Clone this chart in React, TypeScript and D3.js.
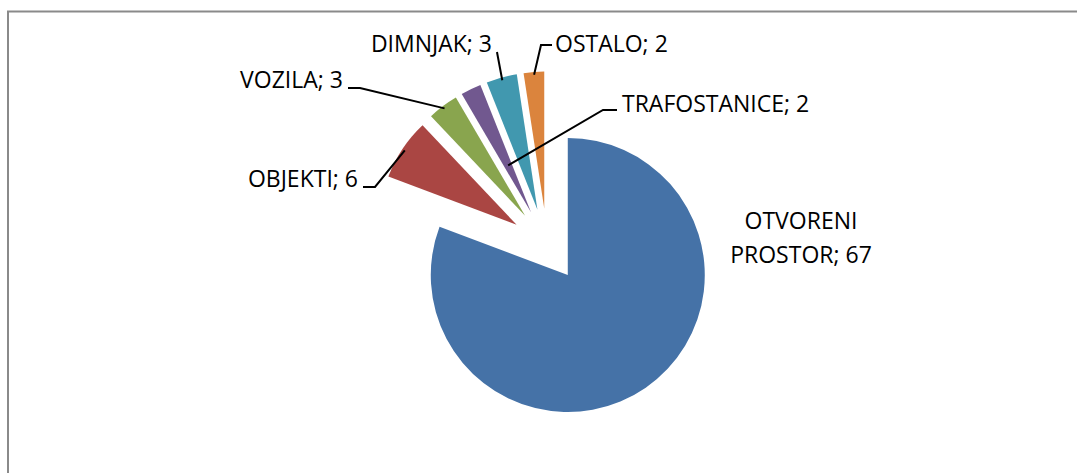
import React from 'react';
import * as d3 from 'd3';

// data
const categories = ['OTVORENI PROSTOR', 'OBJEKTI', 'VOZILA', 'TRAFOSTANICE', 'DIMNJAK', 'OSTALO'];
const values = [67, 6, 3, 2, 3, 2];
const colors = ['#4572A7', '#AA4643', '#89A54E', '#71588F', '#4198AF', '#DB843D'];

// layout
const W = 1077;
const H = 473;
const cx = 547;
const cy = 245;
const radius = 137;
const explode = 36.5;

// label placement: text anchor + elbow points of the leader (toward the slice)
type LabelPos = {
  x: number;
  y: number;
  anchor: 'start' | 'middle' | 'end';
  multiline?: boolean;
  elbow: [number, number][] | null;
  reach: number; // how far into the slice the leader ends (fraction of radius)
};
const labelPos: LabelPos[] = [
  { x: 801, y: 229, anchor: 'middle', multiline: true, elbow: null, reach: 0 },
  { x: 358, y: 187, anchor: 'end', elbow: [[363, 187], [375, 187]], reach: 0.98 },
  { x: 343, y: 88, anchor: 'end', elbow: [[348, 88], [360, 88]], reach: 0.98 },
  { x: 622, y: 112, anchor: 'start', elbow: [[617, 110], [603, 110]], reach: 0.38 },
  { x: 492, y: 52, anchor: 'end', elbow: [[497, 52]], reach: 0.98 },
  { x: 555, y: 52, anchor: 'start', elbow: [[552, 45], [541, 45]], reach: 0.98 },
];

export default function App() {
  const pie = d3.pie<number>().sort(null).startAngle(0).endAngle(2 * Math.PI);
  const arcs = pie(values);
  const arc = d3.arc<d3.PieArcDatum<number>>().innerRadius(0).outerRadius(radius);
  const line = d3.line();

  return (
    <svg width={W} height={H} style={{ position: 'absolute', left: 0, top: 0, display: 'block' }}>
      <rect x={0} y={0} width={W} height={H} fill="#fff" />
      {/* chart area border, continues past the right / bottom edges */}
      <rect x={8} y={11.5} width={W + 20} height={H + 20} fill="none" stroke="#8a8a8a" strokeWidth={2} />
      {arcs.map((a, i) => {
        const mid = (a.startAngle + a.endAngle) / 2;
        const ox = cx + explode * Math.sin(mid);
        const oy = cy - explode * Math.cos(mid);
        return (
          <path key={categories[i]} d={arc(a) || ''} transform={`translate(${ox},${oy})`} fill={colors[i]} />
        );
      })}
      {arcs.map((a, i) => {
        const lp = labelPos[i];
        const mid = (a.startAngle + a.endAngle) / 2;
        const ox = cx + explode * Math.sin(mid);
        const oy = cy - explode * Math.cos(mid);
        const tip: [number, number] = [
          ox + radius * lp.reach * Math.sin(mid),
          oy - radius * lp.reach * Math.cos(mid),
        ];
        const label = `${categories[i]}; ${values[i]}`;
        return (
          <g key={'l' + i}>
            {lp.elbow && (
              <path d={line([...lp.elbow, tip]) || ''} fill="none" stroke="#000" strokeWidth={2} />
            )}
            <text
              x={lp.x}
              y={lp.y}
              textAnchor={lp.anchor}
              fontFamily="'Open Sans', sans-serif"
              fontSize={23}
              fill="#000"
            >
              {lp.multiline ? (
                <>
                  <tspan x={lp.x}>{categories[i].split(' ')[0]}</tspan>
                  <tspan x={lp.x} dy={34}>{`${categories[i].split(' ')[1]}; ${values[i]}`}</tspan>
                </>
              ) : (
                label
              )}
            </text>
          </g>
        );
      })}
    </svg>
  );
}
